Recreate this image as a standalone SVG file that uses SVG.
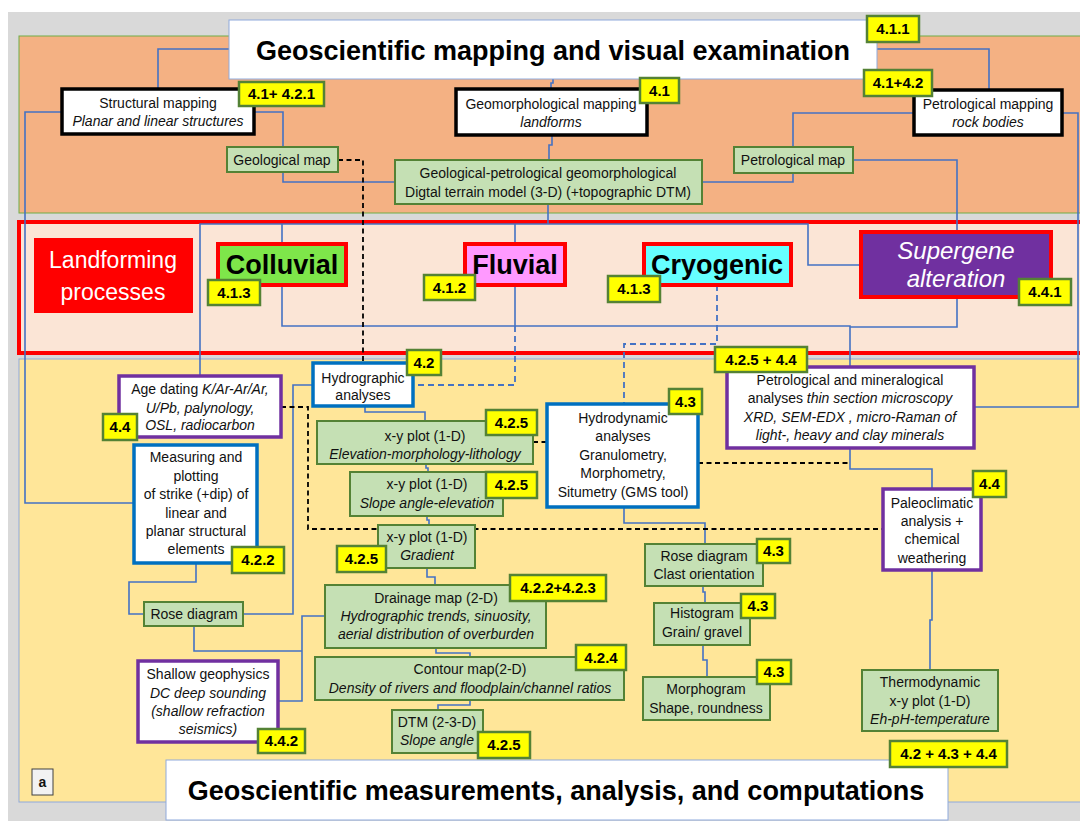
<svg xmlns="http://www.w3.org/2000/svg" width="1080" height="821" viewBox="0 0 1080 821">
<style>
text{font-family:"Liberation Sans",Arial,sans-serif;fill:#111;}
.t{font-size:14px;text-anchor:middle;}
.i{font-style:italic;}
.lbl rect{fill:#ffff00;stroke:#548235;stroke-width:2.5;}
.lbl text{font-size:15px;font-weight:bold;text-anchor:middle;fill:#000;}
.g{fill:#c5e0b4;stroke:#548235;stroke-width:2;}
.bk{fill:#fff;stroke:#000;stroke-width:3.5;}
.bl{fill:#fff;stroke:#0070c0;stroke-width:3.5;}
.pu{fill:#fff;stroke:#7030a0;stroke-width:3.5;}
.pr{stroke:#ff0000;stroke-width:4;}
.big{font-size:27px;font-weight:bold;text-anchor:middle;fill:#000;}
.ttl{font-size:27px;font-weight:bold;text-anchor:middle;fill:#000;}
.c{fill:none;stroke:#4472c4;stroke-width:1.6;}
.cd{fill:none;stroke:#4472c4;stroke-width:1.8;stroke-dasharray:6,4;}
.kd{fill:none;stroke:#000;stroke-width:1.8;stroke-dasharray:5,3.5;}
</style>
<rect x="0" y="0" width="1080" height="821" fill="#fff"/>
<rect x="8" y="12" width="1072" height="809" fill="#d9d9d9"/>
<rect x="19" y="36" width="1070" height="177" fill="#f4b183" stroke="#70ad47" stroke-width="1"/>
<rect x="19" y="359" width="1070" height="443" fill="#ffe699" stroke="#8faadc" stroke-width="1"/>
<rect x="19" y="222" width="1070" height="131" fill="#fbe5d6" stroke="#ff0000" stroke-width="4"/>

<g id="connectors">
<path class="c" d="M229,49 H158 V89"/>
<path class="c" d="M877,49 H989 V90"/>
<path class="c" d="M553,79 V83 H551 V89"/>
<path class="c" d="M552,135 V145 H549 V160"/>
<path class="c" d="M62,112 H25 V503 H134"/>
<path class="c" d="M254,112 H283 V147"/>
<path class="c" d="M283,172 V182 H395"/>
<path class="c" d="M702,182 H793 V173"/>
<path class="c" d="M914,113 H793 V147"/>
<path class="c" d="M1062,113 H1078 V407 H974"/>
<path class="c" d="M853,160 H957 V232"/>
<path class="c" d="M548,204 V224"/>
<path class="c" d="M200,375 V224 H808 V265 H861"/>
<path class="c" d="M282,224 V244 M282,285 V326 H850 V367"/>
<path class="c" d="M515,224 V244"/>
<path class="c" d="M957,297 V327 H850"/>
<path class="c" d="M515,285 V326"/>
<path class="cd" d="M515,326 V385 H413"/>
<path class="cd" d="M717,285 V344 H624 V404"/>
<path class="c" d="M365,406 V412 H425 V421"/>
<path class="c" d="M426,464 V468 H428 V472"/>
<path class="c" d="M427,516 V520 H429 V525"/>
<path class="c" d="M427,568 V577 H435 V585"/>
<path class="c" d="M436,648 V653 H470 V657"/>
<path class="c" d="M470,700 V705 H438 V710"/>
<path class="c" d="M313,385 H293 V614 H243"/>
<path class="c" d="M196,563 V582 H129 V614 H144"/>
<path class="c" d="M194,626 V651 H302"/>
<path class="c" d="M325,616 H302 V701 H279"/>
<path class="c" d="M624,507 V523 H705 V544"/>
<path class="c" d="M703,586 V592 H705 V603"/>
<path class="c" d="M703,645 V660 H707 V677"/>
<path class="c" d="M850,448 V469 H932 V489"/>
<path class="c" d="M932,570 V620 H930 V670"/>
<path class="kd" d="M338,160 H363 V362"/>
<path class="kd" d="M281,407 H308 V529 H883"/>
<path class="kd" d="M533,442 H547"/>
<path class="kd" d="M698,463 H850"/>
</g>

<g id="title-top">
<rect x="229" y="20" width="648" height="59" fill="#fff" stroke="#8faadc" stroke-width="1"/>
<text class="ttl" x="553" y="60">Geoscientific mapping and visual examination</text>
</g>
<g id="title-bottom">
<rect x="166" y="760" width="782" height="60" fill="#fff" stroke="#8faadc" stroke-width="1"/>
<text class="ttl" x="556" y="800">Geoscientific measurements, analysis, and computations</text>
</g>

<g id="structural-mapping">
<rect class="bk" x="62" y="89" width="192" height="45"/>
<text class="t" x="158" y="108">Structural mapping</text>
<text class="t i" x="158" y="126">Planar and linear structures</text>
</g>
<g id="geomorphological-mapping">
<rect class="bk" x="456" y="89" width="191" height="46"/>
<text class="t" x="551" y="109">Geomorphological mapping</text>
<text class="t i" x="551" y="127">landforms</text>
</g>
<g id="petrological-mapping">
<rect class="bk" x="914" y="90" width="148" height="45"/>
<text class="t" x="988" y="109">Petrological mapping</text>
<text class="t i" x="988" y="127">rock bodies</text>
</g>
<g id="geological-map">
<rect class="g" x="227" y="147" width="111" height="25"/>
<text class="t" x="282" y="165">Geological map</text>
</g>
<g id="petrological-map">
<rect class="g" x="734" y="147" width="119" height="26"/>
<text class="t" x="793" y="165">Petrological map</text>
</g>
<g id="dtm-3d">
<rect class="g" x="395" y="160" width="307" height="44"/>
<text class="t" x="548" y="178">Geological-petrological geomorphological</text>
<text class="t" x="548" y="197">Digtal terrain model (3-D)  (+topographic DTM)</text>
</g>

<g id="landforming">
<rect x="34" y="238" width="159" height="75" fill="#ff0000"/>
<text x="113" y="268" font-size="23" text-anchor="middle" style="fill:#fff">Landforming</text>
<text x="113" y="300" font-size="23" text-anchor="middle" style="fill:#fff">processes</text>
</g>
<g id="colluvial">
<rect class="pr" x="218" y="244" width="128" height="41" fill="#7ee64a"/>
<text class="big" x="282" y="274">Colluvial</text>
</g>
<g id="fluvial">
<rect class="pr" x="465" y="244" width="100" height="41" fill="#ff99ff"/>
<text class="big" x="515" y="274">Fluvial</text>
</g>
<g id="cryogenic">
<rect class="pr" x="644" y="244" width="147" height="41" fill="#66ffff"/>
<text class="big" x="717" y="274">Cryogenic</text>
</g>
<g id="supergene">
<rect class="pr" x="861" y="232" width="190" height="65" fill="#7030a0"/>
<text x="956" y="259" font-size="24" font-style="italic" text-anchor="middle" style="fill:#fff">Supergene</text>
<text x="956" y="287" font-size="24" font-style="italic" text-anchor="middle" style="fill:#fff">alteration</text>
</g>

<g id="hydrographic">
<rect class="bl" x="313" y="363" width="100" height="43"/>
<text class="t" x="363" y="383">Hydrographic</text>
<text class="t" x="363" y="400">analyses</text>
</g>
<g id="age-dating">
<rect class="pu" x="119" y="376" width="162" height="61"/>
<text class="t" x="200" y="394">Age dating <tspan font-style="italic">K/Ar-Ar/Ar,</tspan></text>
<text class="t i" x="200" y="413">U/Pb, palynology,</text>
<text class="t i" x="200" y="430">OSL, radiocarbon</text>
</g>
<g id="petro-mineralogical">
<rect class="pu" x="727" y="367" width="247" height="81"/>
<text class="t" x="850" y="385">Petrological and mineralogical</text>
<text class="t" x="850" y="403">analyses <tspan font-style="italic">thin section microscopy</tspan></text>
<text class="t i" x="850" y="422">XRD, SEM-EDX , micro-Raman of</text>
<text class="t i" x="850" y="440">light-, heavy and clay minerals</text>
</g>
<g id="measuring">
<rect class="bl" x="134" y="445" width="123" height="118"/>
<text class="t" x="196" y="462">Measuring and</text>
<text class="t" x="196" y="481">plotting</text>
<text class="t" x="196" y="499">of strike (+dip) of</text>
<text class="t" x="196" y="518">linear and</text>
<text class="t" x="196" y="536">planar structural</text>
<text class="t" x="196" y="554">elements</text>
</g>
<g id="xy-elevation">
<rect class="g" x="317" y="421" width="216" height="43"/>
<text class="t" x="425" y="441">x-y plot (1-D)</text>
<text class="t i" x="425" y="459">Elevation-morphology-lithology</text>
</g>
<g id="xy-slope">
<rect class="g" x="350" y="472" width="153" height="44"/>
<text class="t" x="427" y="489">x-y plot (1-D)</text>
<text class="t i" x="427" y="508">Slope angle-elevation</text>
</g>
<g id="xy-gradient">
<rect class="g" x="378" y="525" width="97" height="43"/>
<text class="t" x="427" y="542">x-y plot (1-D)</text>
<text class="t i" x="427" y="560">Gradient</text>
</g>
<g id="drainage">
<rect class="g" x="325" y="585" width="221" height="63"/>
<text class="t" x="436" y="603">Drainage map (2-D)</text>
<text class="t i" x="436" y="621">Hydrographic trends, sinuosity,</text>
<text class="t i" x="436" y="639">aerial distribution of overburden</text>
</g>
<g id="contour">
<rect class="g" x="315" y="657" width="309" height="43"/>
<text class="t" x="470" y="674">Contour map(2-D)</text>
<text class="t i" x="470" y="693">Density of rivers and floodplain/channel ratios</text>
</g>
<g id="dtm-23d">
<rect class="g" x="392" y="710" width="91" height="43"/>
<text class="t" x="437" y="727">DTM (2-3-D)</text>
<text class="t i" x="437" y="745">Slope angle</text>
</g>
<g id="hydrodynamic">
<rect class="bl" x="547" y="404" width="151" height="103"/>
<text class="t" x="623" y="423">Hydrodynamic</text>
<text class="t" x="623" y="441">analyses</text>
<text class="t" x="623" y="460">Granulometry,</text>
<text class="t" x="623" y="478">Morphometry,</text>
<text class="t" x="623" y="497">Situmetry (GMS tool)</text>
</g>
<g id="rose-clast">
<rect class="g" x="645" y="544" width="118" height="42"/>
<text class="t" x="704" y="561">Rose diagram</text>
<text class="t" x="704" y="579">Clast orientation</text>
</g>
<g id="histogram">
<rect class="g" x="654" y="603" width="96" height="42"/>
<text class="t" x="702" y="618">Histogram</text>
<text class="t" x="702" y="637">Grain/ gravel</text>
</g>
<g id="morphogram">
<rect class="g" x="643" y="677" width="127" height="43"/>
<text class="t" x="706" y="694">Morphogram</text>
<text class="t" x="706" y="713">Shape, roundness</text>
</g>
<g id="paleoclimatic">
<rect class="pu" x="883" y="489" width="98" height="81"/>
<text class="t" x="932" y="508">Paleoclimatic</text>
<text class="t" x="932" y="526">analysis +</text>
<text class="t" x="932" y="544">chemical</text>
<text class="t" x="932" y="563">weathering</text>
</g>
<g id="thermodynamic">
<rect class="g" x="862" y="670" width="136" height="61"/>
<text class="t" x="930" y="687">Thermodynamic</text>
<text class="t" x="930" y="706">x-y plot (1-D)</text>
<text class="t i" x="930" y="724">Eh-pH-temperature</text>
</g>
<g id="rose-left">
<rect class="g" x="144" y="602" width="99" height="24"/>
<text class="t" x="194" y="619">Rose diagram</text>
</g>
<g id="shallow-geophysics">
<rect class="pu" x="138" y="661" width="140" height="81"/>
<text class="t" x="208" y="679">Shallow  geophysics</text>
<text class="t i" x="208" y="698">DC deep sounding</text>
<text class="t i" x="208" y="716">(shallow refraction</text>
<text class="t i" x="208" y="734">seismics)</text>
</g>
<g id="panel-a">
<rect x="32" y="769" width="21" height="26" fill="#f2f2f2" stroke="#404040" stroke-width="1"/>
<text x="42.5" y="787" font-size="14" font-weight="bold" text-anchor="middle">a</text>
</g>

<g id="labels" class="lbl">
<g id="l-411"><rect x="867" y="16" width="52" height="26"/><text x="893" y="34">4.1.1</text></g>
<g id="l-41-421"><rect x="239" y="82" width="85" height="24"/><text x="281.5" y="99">4.1+ 4.2.1</text></g>
<g id="l-41"><rect x="640" y="78" width="39" height="25"/><text x="659.5" y="96">4.1</text></g>
<g id="l-41-42"><rect x="864" y="70" width="68" height="26"/><text x="898" y="88">4.1+4.2</text></g>
<g id="l-413a"><rect x="208" y="280" width="52" height="25"/><text x="234" y="298">4.1.3</text></g>
<g id="l-412"><rect x="424" y="275" width="51" height="25"/><text x="449.5" y="293">4.1.2</text></g>
<g id="l-413b"><rect x="608" y="276" width="52" height="26"/><text x="634" y="294">4.1.3</text></g>
<g id="l-441"><rect x="1019" y="279" width="52" height="26"/><text x="1045" y="297">4.4.1</text></g>
<g id="l-42"><rect x="407" y="350" width="34" height="25"/><text x="424" y="368">4.2</text></g>
<g id="l-425-44"><rect x="715" y="347" width="92" height="25"/><text x="761" y="365">4.2.5 + 4.4</text></g>
<g id="l-44a"><rect x="103" y="414" width="34" height="26"/><text x="120" y="432">4.4</text></g>
<g id="l-43a"><rect x="669" y="389" width="33" height="25"/><text x="685.5" y="407">4.3</text></g>
<g id="l-425a"><rect x="486" y="410" width="51" height="25"/><text x="511.5" y="428">4.2.5</text></g>
<g id="l-425b"><rect x="486" y="472" width="51" height="26"/><text x="511.5" y="490">4.2.5</text></g>
<g id="l-44b"><rect x="973" y="471" width="33" height="26"/><text x="989.5" y="489">4.4</text></g>
<g id="l-422"><rect x="232" y="547" width="52" height="26"/><text x="258" y="565">4.2.2</text></g>
<g id="l-425c"><rect x="337" y="546" width="49" height="26"/><text x="361.5" y="564">4.2.5</text></g>
<g id="l-43b"><rect x="757" y="539" width="33" height="24"/><text x="773.5" y="556">4.3</text></g>
<g id="l-422-423"><rect x="510" y="575" width="96" height="26"/><text x="558" y="593">4.2.2+4.2.3</text></g>
<g id="l-43c"><rect x="741" y="594" width="34" height="24"/><text x="758" y="611">4.3</text></g>
<g id="l-424"><rect x="576" y="645" width="50" height="25"/><text x="601" y="663">4.2.4</text></g>
<g id="l-43d"><rect x="757" y="660" width="34" height="24"/><text x="774" y="677">4.3</text></g>
<g id="l-442"><rect x="258" y="729" width="47" height="24"/><text x="281.5" y="746">4.4.2</text></g>
<g id="l-425d"><rect x="478" y="732" width="52" height="26"/><text x="504" y="750">4.2.5</text></g>
<g id="l-42-43-44"><rect x="890" y="741" width="117" height="26"/><text x="948.5" y="759">4.2 + 4.3 + 4.4</text></g>
</g>
</svg>
